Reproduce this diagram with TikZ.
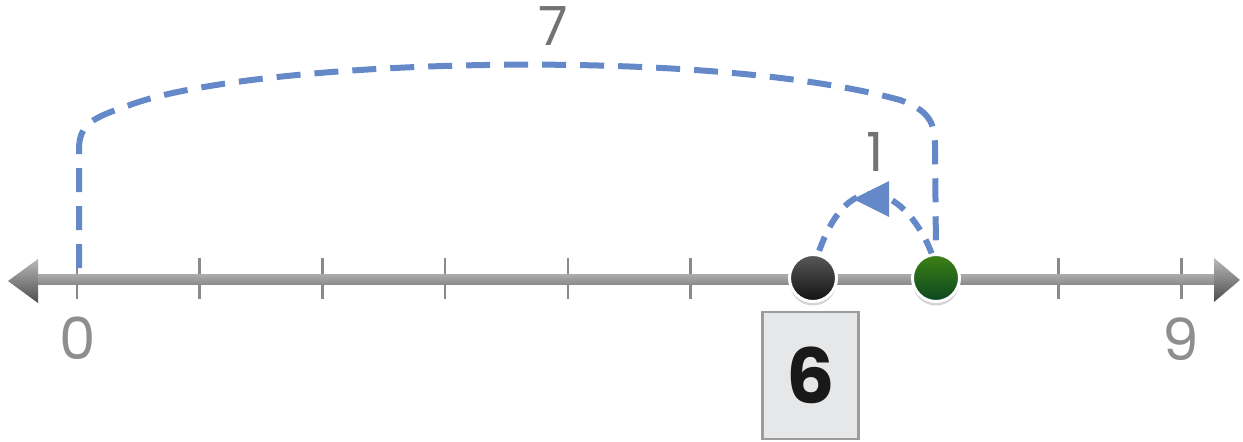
\documentclass[tikz,border=0pt]{standalone}
\usepackage{fontspec}
\setmainfont{Poppins}
\usetikzlibrary{arrows.meta,decorations.markings,shadows}
\definecolor{dashblue}{HTML}{6589C8}
\definecolor{lblgray}{HTML}{8E8E8E}
\definecolor{tickgray}{HTML}{8A8A8A}
\definecolor{boxfill}{HTML}{E6E7E9}
\definecolor{boxline}{HTML}{9C9C9C}
\definecolor{greentop}{HTML}{3E8214}
\definecolor{greenbot}{HTML}{0A4622}
\definecolor{blacktop}{HTML}{5A5A5A}
\definecolor{blackbot}{HTML}{111111}
\tikzset{
  bigdash/.style={draw=dashblue,line width=6pt,dash pattern=on 24pt off 14pt},
  smalldash/.style={draw=dashblue,line width=6pt,dash pattern=on 15pt off 11pt},
  tickmark/.style={draw=tickgray,line width=2.5pt},
  numlbl/.style={text=lblgray,font=\fontsize{58}{58}\selectfont,inner sep=0pt},
  dotstyle/.style={circle,minimum size=47pt,inner sep=0pt,draw=white,line width=3pt,
     drop shadow={opacity=0.35,shadow xshift=0pt,shadow yshift=-4pt}},
}
\begin{document}
\begin{tikzpicture}[x=1pt,y=-1pt]
\useasboundingbox (0,0) rectangle (1243,442);
% ticks
\foreach \i in {0,...,9} {
  \coordinate (t\i) at ({77+122.7*\i},279);
  \draw[tickmark] ([yshift=-20pt]t\i) -- ([yshift=21pt]t\i);
}
% axis
\shade[top color=gray!65,bottom color=gray!110!black] (36,274) rectangle (1218,284);
\shade[top color=gray!55,bottom color=black!70] (8,281) -- (38,259) -- (38,303) -- cycle;
\shade[top color=gray!55,bottom color=black!70] (1240,280) -- (1214,258) -- (1214,302) -- cycle;
% labels
\node[numlbl] (l0) at (78,338) {0};
\node[numlbl] (l9) at (1181,339) {9};
% dots
\node[dotstyle,top color=blacktop,bottom color=blackbot] (b) at (813,278) {};
\node[dotstyle,top color=greentop,bottom color=greenbot] (g) at (936,278) {};
% big dashed jump
\coordinate (s0) at (79,268);
\draw[bigdash] (s0) -- (79,150) .. controls (79,124) and (92,118) .. (130,105)
   .. controls (250,60) and (700,45) .. (900,100)
   .. controls (928,110) and (935,122) .. (935,145) -- (g.north);
\node[text=black!55,font=\fontsize{54}{54}\selectfont,inner sep=0pt] (l7) at (553,26) {7};
% small jump back
\draw[smalldash] (g.100) .. controls (922,228) and (900,195) .. (872,194)
   .. controls (845,194) and (828,225) .. (b.78);
\fill[dashblue] (853,199) -- (889,181) -- (889,217) -- cycle;
\node[text=black!55,font=\fontsize{54}{54}\selectfont,inner sep=0pt] (l1) at (875,152) {1};
% answer box
\node[draw=boxline,fill=boxfill,line width=2.5pt,minimum width=96pt,minimum height=127pt,
  inner sep=0pt,text=black!90,font=\fontsize{76}{76}\selectfont\bfseries] (ans) at (810.5,375.5) {6};
\end{tikzpicture}
\end{document}
